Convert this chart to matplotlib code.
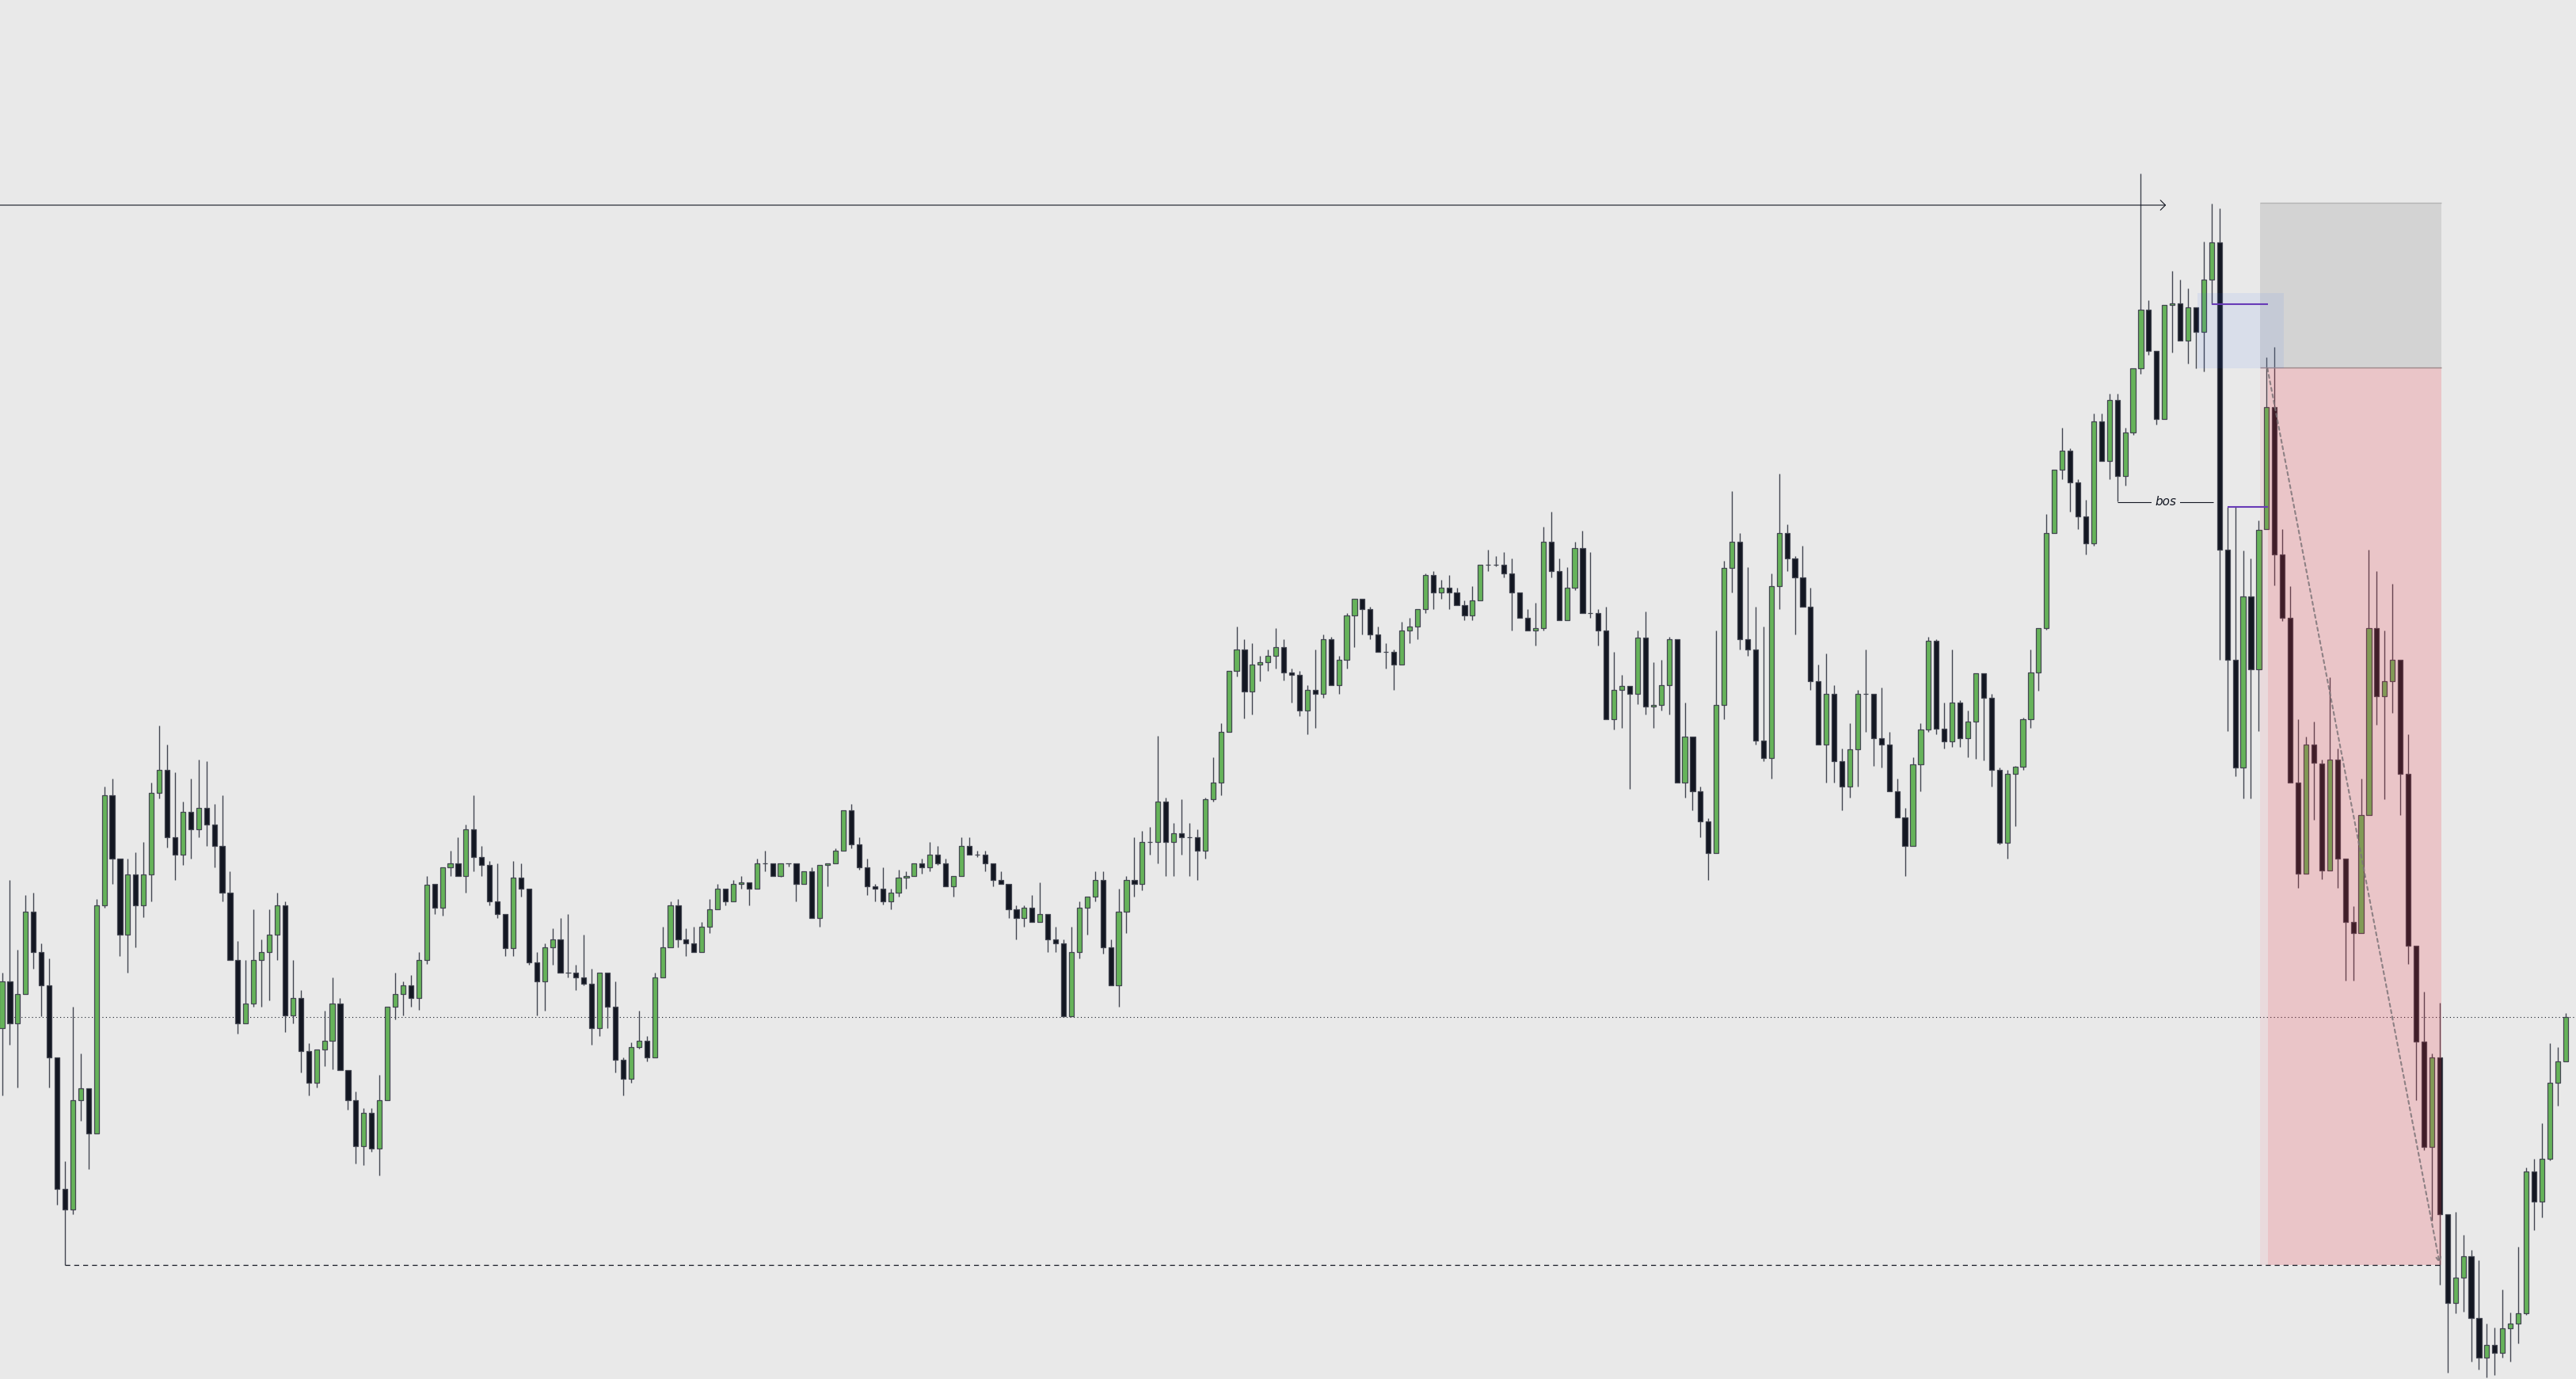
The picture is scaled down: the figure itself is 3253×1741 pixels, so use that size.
import numpy as np
import matplotlib
matplotlib.use("Agg")
import matplotlib.pyplot as plt
from matplotlib.patches import Rectangle

# Velas (precio en puntos)
opens = [
    443, 502, 449, 486, 590, 539, 497, 406, 240, 214, 352, 367, 310, 598, 737, 657, 561, 637, 598, 637,
    740, 769, 684, 662, 716, 694, 721, 700, 673, 614, 529, 449, 474, 529, 539, 561, 598, 459, 481, 414,
    374, 416, 427, 474, 390, 352, 294, 336, 291, 352, 470, 486, 497, 481, 529, 625, 595, 646, 651, 635,
    694, 659, 649, 603, 587, 544, 633, 619, 526, 502, 545, 555, 513, 513, 507, 499, 443, 513, 470, 403,
    379, 419, 427, 406, 507, 545, 598, 555, 550, 539, 571, 593, 619, 603, 625, 627, 619, 651, 651, 635,
    651, 651, 625, 641, 582, 649, 651, 667, 718, 675, 646, 622, 619, 603, 614, 633, 635, 651, 646, 662,
    651, 622, 635, 673, 662, 662, 651, 630, 625, 593, 582, 595, 577, 587, 555, 550, 458, 539, 595, 609,
    630, 545, 497, 590, 630, 625, 678, 678, 729, 678, 689, 684, 684, 667, 732, 753, 817, 894, 921, 868,
    902, 905, 913, 924, 892, 889, 844, 870, 865, 934, 876, 908, 964, 985, 972, 940, 918, 918, 902, 945,
    950, 972, 1015, 993, 999, 993, 977, 964, 983, 1028, 1028, 1028, 1017, 993, 961, 945, 948, 1057, 1020, 958,
    999, 1049, 967, 967, 945, 833, 870, 875, 865, 936, 849, 851, 876, 934, 753, 811, 742, 704, 664, 851,
    1024, 1057, 934, 921, 806, 784, 1001, 1068, 1036, 1012, 975, 881, 801, 865, 780, 748, 795, 865, 865, 809,
    801, 742, 709, 673, 776, 820, 932, 821, 805, 854, 809, 830, 891, 860, 769, 677, 764, 773, 833, 892,
    948, 1068, 1148, 1172, 1132, 1089, 1055, 1209, 1159, 1236, 1140, 1195, 1276, 1350, 1298, 1212, 1356, 1358, 1311, 1353,
    1322, 1388, 1435, 1047, 908, 772, 988, 896, 1073, 1227, 1041, 961, 753, 638, 801, 777, 642, 782, 657, 577,
    563, 712, 948, 862, 881, 908, 764, 547, 426, 293, 406, 208, 96, 128, 155, 77, 27, 43, 33, 64,
    70, 83, 262, 224, 278, 374, 401,
]
highs = [
    513, 630, 542, 611, 614, 550, 531, 406, 275, 470, 411, 367, 606, 748, 758, 657, 657, 665, 678, 753,
    825, 801, 766, 729, 758, 782, 780, 726, 737, 641, 553, 529, 593, 555, 593, 614, 603, 529, 491, 424,
    416, 465, 507, 481, 390, 363, 342, 342, 384, 470, 513, 502, 510, 539, 635, 625, 646, 667, 684, 700,
    737, 673, 654, 651, 587, 654, 651, 619, 539, 550, 569, 582, 587, 523, 561, 518, 513, 513, 502, 406,
    425, 465, 433, 513, 571, 603, 606, 569, 571, 577, 606, 625, 619, 630, 635, 627, 657, 667, 651, 651,
    651, 651, 641, 646, 649, 651, 670, 718, 726, 684, 657, 625, 646, 619, 643, 641, 651, 657, 678, 673,
    657, 635, 684, 684, 667, 667, 651, 641, 625, 598, 598, 611, 627, 587, 571, 555, 571, 603, 609, 641,
    641, 555, 619, 635, 684, 692, 697, 812, 734, 702, 732, 702, 694, 734, 785, 828, 894, 950, 934, 929,
    913, 921, 948, 934, 897, 894, 876, 921, 940, 937, 913, 967, 985, 985, 975, 950, 929, 921, 956, 961,
    972, 1017, 1020, 1009, 1015, 999, 983, 1001, 1028, 1047, 1039, 1044, 1036, 993, 972, 980, 1076, 1095, 1036, 1025,
    1057, 1071, 1044, 972, 975, 918, 889, 875, 945, 969, 905, 908, 937, 934, 854, 811, 748, 708, 945, 1033,
    1121, 1068, 1025, 975, 950, 1017, 1143, 1079, 1039, 1052, 999, 902, 916, 876, 796, 828, 870, 921, 865, 873,
    817, 758, 721, 785, 828, 937, 934, 854, 921, 857, 844, 891, 891, 865, 772, 769, 774, 835, 921, 948,
    1092, 1148, 1201, 1175, 1136, 1110, 1219, 1219, 1244, 1244, 1201, 1276, 1522, 1362, 1298, 1356, 1399, 1388, 1377, 1353,
    1436, 1484, 1478, 1101, 1101, 1046, 1036, 1084, 1290, 1303, 1073, 1001, 833, 811, 830, 782, 886, 796, 657, 597,
    758, 1047, 1020, 945, 1004, 908, 814, 547, 489, 411, 475, 208, 211, 182, 163, 150, 70, 65, 113, 84,
    167, 267, 278, 323, 424, 419, 462,
]
lows = [
    358, 422, 368, 486, 518, 458, 368, 220, 144, 208, 326, 265, 310, 595, 625, 534, 513, 545, 583, 603,
    733, 671, 630, 649, 657, 684, 673, 646, 603, 529, 436, 449, 470, 470, 478, 529, 438, 449, 387, 358,
    368, 395, 391, 390, 340, 272, 270, 287, 257, 352, 454, 459, 470, 466, 524, 587, 585, 635, 635, 614,
    641, 635, 598, 582, 534, 534, 609, 523, 459, 465, 523, 513, 507, 491, 497, 422, 433, 443, 387, 358,
    374, 417, 401, 406, 507, 545, 545, 534, 539, 539, 563, 593, 598, 603, 619, 598, 619, 641, 635, 634,
    647, 603, 625, 582, 571, 622, 651, 667, 670, 643, 611, 603, 599, 593, 609, 619, 635, 638, 641, 649,
    622, 609, 635, 662, 659, 641, 622, 625, 582, 555, 571, 577, 577, 539, 539, 458, 458, 531, 561, 603,
    537, 497, 470, 563, 609, 617, 662, 651, 635, 635, 662, 635, 630, 657, 729, 737, 817, 887, 834, 839,
    881, 894, 897, 882, 854, 837, 814, 822, 860, 876, 865, 897, 924, 940, 934, 918, 897, 870, 902, 929,
    934, 967, 972, 985, 972, 977, 958, 958, 983, 1020, 1026, 1012, 945, 961, 945, 926, 945, 1012, 958, 958,
    996, 967, 961, 926, 833, 820, 822, 745, 852, 839, 822, 844, 839, 753, 734, 718, 684, 630, 664, 833,
    993, 921, 913, 801, 780, 758, 972, 1020, 940, 975, 870, 801, 753, 753, 718, 734, 748, 817, 774, 772,
    742, 709, 635, 673, 742, 817, 814, 796, 798, 798, 785, 783, 781, 748, 675, 657, 698, 769, 822, 869,
    946, 1068, 1136, 1095, 1073, 1041, 1052, 1159, 1136, 1108, 1128, 1192, 1269, 1293, 1205, 1212, 1296, 1311, 1282, 1276,
    1272, 1357, 908, 818, 761, 733, 733, 818, 1073, 1002, 957, 753, 620, 638, 706, 631, 642, 620, 503, 503,
    563, 712, 826, 732, 841, 712, 524, 352, 289, 200, 119, 8, 83, 85, 22, 12, 2, 5, 27, 22,
    45, 81, 188, 204, 276, 345, 401,
]
closes = [
    502, 449, 486, 590, 539, 497, 406, 240, 214, 352, 367, 310, 598, 737, 657, 561, 637, 598, 637, 740,
    769, 684, 662, 716, 694, 721, 700, 673, 614, 529, 449, 474, 529, 539, 561, 598, 459, 481, 414, 374,
    416, 427, 474, 390, 352, 294, 336, 291, 352, 470, 486, 497, 481, 529, 624, 595, 646, 651, 635, 694,
    659, 649, 603, 587, 544, 633, 619, 526, 502, 545, 555, 513, 513, 507, 499, 443, 513, 470, 403, 379,
    419, 427, 406, 507, 545, 598, 555, 550, 539, 571, 593, 619, 603, 625, 627, 619, 651, 651, 635, 651,
    651, 625, 641, 582, 649, 651, 667, 718, 675, 646, 622, 619, 603, 614, 633, 635, 651, 646, 662, 651,
    622, 635, 673, 662, 662, 651, 630, 625, 593, 582, 595, 577, 587, 555, 550, 458, 539, 595, 609, 630,
    545, 497, 590, 630, 625, 678, 678, 729, 678, 689, 684, 684, 667, 732, 753, 817, 894, 921, 868, 902,
    905, 913, 924, 892, 889, 844, 870, 865, 934, 876, 908, 964, 985, 972, 940, 918, 918, 902, 945, 950,
    972, 1015, 993, 999, 993, 977, 964, 983, 1028, 1028, 1028, 1017, 993, 961, 945, 948, 1057, 1020, 958, 999,
    1049, 967, 967, 945, 833, 870, 875, 865, 936, 849, 851, 876, 934, 753, 811, 742, 704, 664, 851, 1024,
    1057, 934, 921, 806, 784, 1001, 1068, 1036, 1012, 975, 881, 801, 865, 780, 748, 795, 865, 865, 809, 801,
    742, 709, 673, 776, 820, 932, 821, 805, 854, 809, 830, 891, 860, 769, 677, 764, 773, 833, 892, 948,
    1068, 1148, 1172, 1132, 1089, 1055, 1209, 1159, 1236, 1140, 1195, 1276, 1350, 1298, 1212, 1356, 1358, 1311, 1353, 1322,
    1388, 1435, 1047, 908, 772, 988, 896, 1072, 1227, 1041, 961, 753, 638, 801, 778, 642, 782, 657, 577, 563,
    712, 948, 862, 881, 908, 764, 547, 426, 293, 406, 208, 96, 128, 155, 77, 27, 43, 33, 64, 70,
    83, 262, 224, 278, 374, 401, 457,
]

# Niveles de la operacion y dibujos
last_price = 457
stop_level = 1485
entry_level = 1277
target_level = 144
arrow_level = 1482
bos_level = 1107.5
purple_levels = [1357, 1101]
purple_starts = [281, 283]

BG = "#e9e9e9"
GREEN = "#66b35a"
DARK = "#131722"
EDGE = "#434651"

o = np.array(opens)
h = np.array(highs)
l = np.array(lows)
c = np.array(closes)
idx = np.arange(len(o))
up = c > o

fig = plt.figure(figsize=(32.53, 17.41), dpi=100)
fig.patch.set_facecolor(BG)
ax = fig.add_axes([0, 0, 1, 1])
ax.set_xlim(-0.252, 327.34)
ax.set_ylim(0, 1741)
ax.axis("off")

# linea de precio actual
ax.axhline(last_price, color=DARK, lw=0.8, ls=(0, (1, 3)), zorder=1)

# mechas y cuerpos
ax.vlines(idx, l, h, color=EDGE, lw=1.0, zorder=2)
ax.bar(idx, np.abs(c - o), bottom=np.minimum(o, c), width=0.62,
       color=np.where(up, GREEN, DARK), edgecolor=EDGE, linewidth=0.9, zorder=3)

# herramienta de posicion corta
x0, x1, xe = 287.16, 310.23, 288.17
ax.add_patch(Rectangle((x0, entry_level), x1 - x0, stop_level - entry_level,
                       facecolor="#7f7f7f", alpha=0.2, edgecolor="none", zorder=4))
ax.add_patch(Rectangle((xe, target_level), x1 - xe, entry_level - target_level,
                       facecolor="#f23645", alpha=0.2, edgecolor="none", zorder=4))
ax.add_patch(Rectangle((x0, target_level), xe - x0, entry_level - target_level,
                       facecolor="#f23645", alpha=0.08, edgecolor="none", zorder=4))
ax.hlines(stop_level, x0, x1, color="#b4b4b4", lw=1.0, zorder=5)
ax.hlines(entry_level, x0, x1, color="#9d8789", lw=1.0, zorder=5)

# zona azul (order block)
ax.add_patch(Rectangle((279.2, 1276), 11.0, 95, facecolor="#2962ff",
                       alpha=0.08, edgecolor="none", zorder=5))
for lev, xs in zip(purple_levels, purple_starts):
    ax.hlines(lev, xs, 288.2, color="#673ab7", lw=1.5, zorder=6)

# objetivo
ax.hlines(target_level, 8, x1, colors=DARK, lw=0.9, linestyles=[(0, (5, 4))], zorder=6)

# linea con flecha hacia la derecha
ax.annotate("", xy=(275.2, arrow_level), xytext=(-0.3, arrow_level),
            arrowprops=dict(arrowstyle="->,head_length=0.45,head_width=0.45", color=DARK,
                            lw=0.8, shrinkA=0, shrinkB=0, mutation_scale=10), zorder=6)

# proyeccion punteada
ax.annotate("", xy=(310.0, 146), xytext=(288.1, 1276),
            arrowprops=dict(arrowstyle="->", color="#7d7478", lw=1.5, ls=(0, (2, 2)),
                            shrinkA=0, shrinkB=0, alpha=0.85, mutation_scale=10), zorder=6)

# bos
ax.hlines(bos_level, 269, 281.2, color=DARK, lw=0.8, zorder=6)
ax.text(275.2, bos_level, "bos", style="italic", fontsize=11, ha="center", va="center",
        color=DARK, bbox=dict(boxstyle="square,pad=0.3", fc=BG, ec="none"), zorder=7)

fig.savefig("out.png", dpi=100, facecolor=BG)
